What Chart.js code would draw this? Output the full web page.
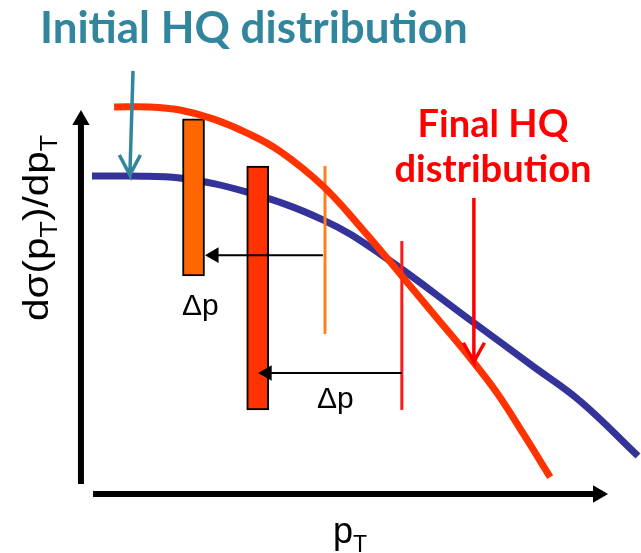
<!DOCTYPE html>
<html>
<head>
<meta charset="utf-8">
<script src="https://cdn.jsdelivr.net/npm/chart.js@4.4.1/dist/chart.umd.min.js"></script>
<style>
html, body { margin: 0; padding: 0; background: #fff; }
#wrap { position: relative; width: 641px; height: 553px; }
</style>
</head>
<body>
<div id="wrap"><canvas id="chart"></canvas></div>
<script>
// schematic units: pT along x, d(sigma)/dpT along y
var initialPt = [0.19, 0.91, 1.86, 3.14, 4.58, 5.67, 7.43, 8.57, 9.47, 10.57];
var initialY  = [8.28, 8.28, 8.23, 7.86, 7.14, 6.25, 4.48, 3.33, 2.42, 0.99];
var finalPt = [0.61, 1.29, 1.86, 2.49, 3.14, 3.76, 4.58, 5.34, 6.08, 6.62, 7.41, 7.89, 8.38, 8.90];
var finalY  = [10.08, 10.08, 10.00, 9.77, 9.40, 8.93, 8.02, 6.88, 5.68, 4.79, 3.49, 2.63, 1.59, 0.44];

// bins (bars) after energy loss, and the bins they came from (thin lines)
var binPt   = [2.12, 3.34];
var binLow  = [5.68, 2.19];
var binHigh = [9.77, 8.54];
var fromPt   = [4.62, 6.08];
var fromLow  = [4.17, 2.19];
var fromHigh = [8.54, 6.59];

// the two delta p shifts
var shiftY    = [6.22, 3.15];
var shiftFrom = [4.58, 6.08];
var shiftTo   = [2.51, 3.52];

// pointer arrows to the curves: [top, tip]
var initPointer  = [[0.97, 11.02], [0.91, 8.31]];
var finalPointer = [[7.45, 7.71], [7.45, 3.44]];

var titleText = 'Initial HQ distribution';
var finalText = ['Final HQ', 'distribution'];
var shiftText = 'Δp';
var xTitle = [['p', false], ['T', true]];
var yTitle = [['dσ(p', false], ['T', true], [')/dp', false], ['T', true]];

var orange = '#FF6600';
var redOrange = '#FF3300';
var teal = '#31859C';

function pts(xs, ys) {
  return xs.map(function (x, i) { return {x: x, y: ys[i]}; });
}

// open V arrow head around the tip
function pointer(p, dx, dy) {
  var top = p[0], tip = p[1];
  return [
    {x: top[0], y: top[1]}, {x: tip[0], y: tip[1]},
    {x: tip[0] - dx, y: tip[1] + dy}, {x: tip[0], y: tip[1]},
    {x: tip[0] + dx, y: tip[1] + dy}
  ];
}

var datasets = [];

datasets.push({
  type: 'line', label: 'initial', data: pts(initialPt, initialY),
  borderColor: '#333399', borderWidth: 7, tension: 0.4,
  pointRadius: 0, order: 6
});

datasets.push({
  type: 'bar', label: 'bins',
  data: binPt.map(function (x, i) { return {x: x, y: [binLow[i], binHigh[i]]}; }),
  backgroundColor: [orange, redOrange], borderColor: '#000', borderWidth: 2,
  borderSkipped: false, barThickness: 22, order: 5
});

fromPt.forEach(function (x, i) {
  datasets.push({
    type: 'line', label: 'from' + i,
    data: [{x: x, y: fromLow[i]}, {x: x, y: fromHigh[i]}],
    borderColor: i === 0 ? '#FF7F1A' : '#FF1A1A', borderWidth: 3,
    pointRadius: 0, order: 4
  });
});

datasets.push({
  type: 'line', label: 'final', data: pts(finalPt, finalY),
  borderColor: redOrange, borderWidth: 7, tension: 0.4,
  pointRadius: 0, order: 3
});

shiftY.forEach(function (y, i) {
  datasets.push({
    type: 'line', label: 'shift' + i,
    data: [{x: shiftFrom[i], y: y}, {x: shiftTo[i], y: y}],
    borderColor: '#000', borderWidth: 2,
    pointStyle: 'triangle', pointRadius: [0, 9], pointRotation: -90,
    pointBackgroundColor: '#000', pointBorderWidth: 0, order: 2
  });
});

datasets.push({
  type: 'line', label: 'initPointer', data: pointer(initPointer, 0.2, 0.52),
  borderColor: teal, borderWidth: 3.5, pointRadius: 0, order: 2
});
datasets.push({
  type: 'line', label: 'finalPointer', data: pointer(finalPointer, 0.2, 0.5),
  borderColor: '#FF0000', borderWidth: 3.5, pointRadius: 0, order: 2
});

// axes with arrow heads
datasets.push({
  type: 'line', label: 'yaxis', data: [{x: -0.02, y: 0.26}, {x: -0.02, y: 9.74}],
  borderColor: '#000', borderWidth: 6,
  pointStyle: 'triangle', pointRadius: [0, 10], pointRotation: 0,
  pointBackgroundColor: '#000', pointBorderWidth: 0, order: 1
});
datasets.push({
  type: 'line', label: 'xaxis', data: [{x: 0.21, y: 0}, {x: 9.81, y: 0}],
  borderColor: '#000', borderWidth: 6,
  pointStyle: 'triangle', pointRadius: [0, 10], pointRotation: 90,
  pointBackgroundColor: '#000', pointBorderWidth: 0, order: 1
});

var sans = '"Liberation Sans", Arial, sans-serif';
var bold = 'Lato, "Open Sans", sans-serif';

function fitFont(c, text, width) {
  c.font = 'bold 40px ' + bold;
  var s = 40 * width / c.measureText(text).width;
  c.font = 'bold ' + s.toFixed(1) + 'px ' + bold;
}

function subWidth(c, parts, size, subSize) {
  var w = 0;
  parts.forEach(function (p) {
    c.font = (p[1] ? subSize : size) + 'px ' + sans;
    w += c.measureText(p[0]).width;
  });
  return w;
}

function subText(c, parts, x, y, size, subSize, drop) {
  parts.forEach(function (p) {
    c.font = (p[1] ? subSize : size) + 'px ' + sans;
    c.fillText(p[0], x, p[1] ? y + drop : y);
    x += c.measureText(p[0]).width;
  });
}

var textPlugin = {
  id: 'texts',
  afterDraw: function (chart) {
    var c = chart.ctx;
    c.save();
    c.textBaseline = 'alphabetic';

    c.fillStyle = teal;
    c.textAlign = 'left';
    fitFont(c, titleText, 428);
    c.fillText(titleText, 40, 43);

    c.fillStyle = '#FF0000';
    c.textAlign = 'center';
    fitFont(c, finalText[1], 197);
    c.fillText(finalText[0], 493, 137);
    c.fillText(finalText[1], 493, 182);

    c.fillStyle = '#000';
    c.textAlign = 'left';
    c.font = '30px ' + sans;
    c.fillText(shiftText, 182, 315);
    c.fillText(shiftText, 317, 408);

    subText(c, xTitle, 333, 543, 36, 23, 9);

    // rotated y title, stretched to the reference length
    c.translate(48, 321);
    c.rotate(-Math.PI / 2);
    var k = 186 / subWidth(c, yTitle, 35, 23);
    c.scale(k, 1);
    subText(c, yTitle, 0, 0, 35, 23, 9);
    c.restore();
  }
};

var chart = new Chart(document.getElementById('chart').getContext('2d'), {
  type: 'line',
  data: { datasets: datasets },
  options: {
    responsive: true,
    maintainAspectRatio: false,
    animation: false,
    events: [],
    layout: { padding: 0, autoPadding: false },
    plugins: { legend: { display: false }, tooltip: { enabled: false } },
    scales: {
      x: { type: 'linear', display: false, offset: false, min: -1.559, max: 10.627 },
      y: { type: 'linear', display: false, min: -1.536, max: 12.865 }
    }
  },
  plugins: [textPlugin]
});
</script>
</body>
</html>
